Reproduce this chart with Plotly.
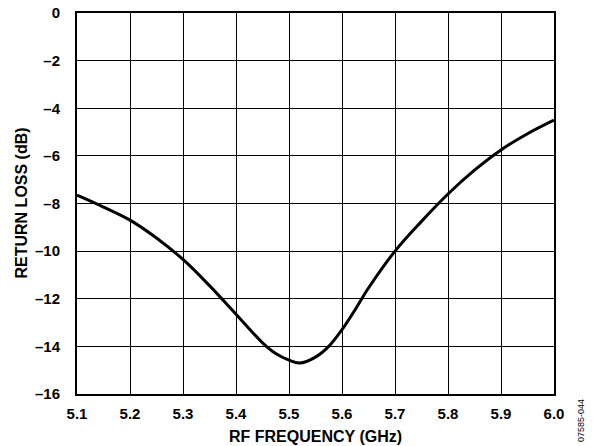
import plotly.graph_objects as go

# Return loss versus RF frequency
freq_ghz = [5.10, 5.15, 5.20, 5.25, 5.30, 5.35, 5.40, 5.45, 5.475, 5.50, 5.52,
            5.55, 5.575, 5.60, 5.625, 5.65, 5.70, 5.75, 5.80, 5.85, 5.90, 5.95, 6.00]
return_loss_db = [-7.65, -8.15, -8.7, -9.45, -10.35, -11.45, -12.65, -13.85, -14.3, -14.58, -14.7,
                  -14.45, -14.0, -13.3, -12.45, -11.55, -10.0, -8.75, -7.6, -6.6, -5.75, -5.07, -4.5]

x_ticks = [5.1, 5.2, 5.3, 5.4, 5.5, 5.6, 5.7, 5.8, 5.9, 6.0]
x_tick_text = ["5.1", "5.2", "5.3", "5.4", "5.5", "5.6", "5.7", "5.8", "5.9", "6.0"]
y_ticks = [0, -2, -4, -6, -8, -10, -12, -14, -16]
y_tick_text = ["0", "\u20132", "\u20134", "\u20136", "\u20138", "\u201310", "\u201312", "\u201314", "\u201316"]

x_title = "RF FREQUENCY (GHz)"
y_title = "RETURN LOSS (dB)"
figure_id = "07585-044"

FONT = "Liberation Sans, Arial, sans-serif"


def bold(labels):
    return ["<b>%s</b>" % s for s in labels]


fig = go.Figure()
fig.add_trace(go.Scatter(
    x=freq_ghz, y=return_loss_db, mode="lines",
    line=dict(color="black", width=3, shape="spline", smoothing=1.0),
    hoverinfo="skip", showlegend=False,
))

axis_common = dict(
    showgrid=True, gridcolor="black", gridwidth=1,
    showline=True, linecolor="black", linewidth=2, mirror=True,
    ticks="", tickfont=dict(family=FONT, size=15, color="black"),
    zeroline=False, fixedrange=True, automargin=False,
)

fig.update_layout(
    width=605, height=446,
    margin=dict(l=77, r=51, t=13, b=52),
    paper_bgcolor="white", plot_bgcolor="white",
    font=dict(family=FONT, color="black"),
    xaxis=dict(range=[5.1, 6.0], tickvals=x_ticks, ticktext=bold(x_tick_text),
               ticklabelstandoff=5, **axis_common),
    yaxis=dict(range=[-16, 0], tickvals=y_ticks, ticktext=bold(y_tick_text),
               ticklabelstandoff=12, **axis_common),
)

# axis titles
fig.add_annotation(
    text="<b>%s</b>" % x_title, xref="paper", yref="paper",
    x=0.5, y=0.0, yshift=-42, showarrow=False,
    font=dict(family=FONT, size=16, color="black"),
    xanchor="center", yanchor="middle",
)
fig.add_annotation(
    text="<b>%s</b>" % y_title, xref="paper", yref="paper",
    x=0.0, xshift=-56, y=0.5, textangle=-90, showarrow=False,
    font=dict(family=FONT, size=16, color="black"),
    xanchor="center", yanchor="middle",
)

fig.add_annotation(
    text=figure_id, xref="paper", yref="paper",
    x=1.0, xshift=27, y=0.0, yshift=-27, textangle=-90,
    showarrow=False, font=dict(family=FONT, size=9, color="black"),
    xanchor="center", yanchor="middle",
)

fig.write_html("out.html")
